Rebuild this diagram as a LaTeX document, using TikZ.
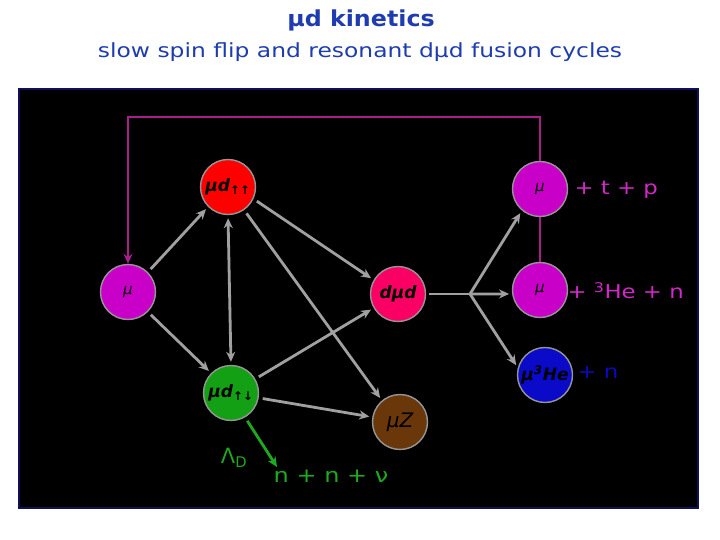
\documentclass[tikz,border=0pt]{standalone}
\usepackage{fontspec}
\setmainfont{DejaVu Sans}
\newfontfamily\widefont[FakeStretch=1.2]{DejaVu Sans}
\newfontfamily\widebold[FakeStretch=1.08]{DejaVu Sans Bold}
\usetikzlibrary{arrows.meta}
\definecolor{titleblue}{RGB}{30,60,175}
\definecolor{navy}{RGB}{15,15,90}
\definecolor{edgegray}{RGB}{160,160,160}
\definecolor{ringgray}{RGB}{150,150,150}
\definecolor{loopmag}{RGB}{170,30,140}
\definecolor{magnode}{RGB}{200,0,200}
\definecolor{pinknode}{RGB}{250,0,100}
\definecolor{rednode}{RGB}{255,0,0}
\definecolor{greennode}{RGB}{20,160,20}
\definecolor{brownnode}{RGB}{105,55,10}
\definecolor{bluenode}{RGB}{10,10,200}
\definecolor{labmag}{RGB}{210,40,200}
\definecolor{labgreen}{RGB}{30,170,30}
\definecolor{labblue}{RGB}{10,10,190}
\begin{document}
\begin{tikzpicture}[x=1pt,y=-1pt,
  ball/.style={circle,draw=ringgray,line width=1.4pt,minimum size=55pt,inner sep=0pt,
    font=\bfseries\itshape\fontsize{17}{17}\selectfont,text=black},
  tip/.style={-{Stealth[length=10pt,width=9pt]}},
  link/.style={draw=edgegray,line width=2.8pt,tip,shorten <=4pt,shorten >=3pt},
  plain/.style={draw=edgegray,line width=2.8pt},
  sidelab/.style={font=\widefont\fontsize{19}{19}\selectfont,anchor=west}]
\useasboundingbox (0,0) rectangle (720,540);
% titles
\node[text=titleblue,font=\widebold\fontsize{22}{22}\selectfont] (title) at (361,20) {μd kinetics};
\node[text=titleblue,font=\widefont\fontsize{19.5}{19.5}\selectfont] (subtitle) at (360,52) {slow spin flip and resonant dμd fusion cycles};
% panel
\node[draw=navy,fill=black,line width=1.5pt,minimum width=679pt,minimum height=419pt,inner sep=0pt] (panel) at (358.5,298.5) {};
% nodes
\node[ball,fill=rednode] (udpp) at (228,187) {μd\textsubscript{↑↑}};
\node[ball,fill=magnode,font=\itshape\fontsize{15}{15}\selectfont] (mul) at (128,292) {μ};
\node[ball,fill=magnode,font=\itshape\fontsize{15}{15}\selectfont] (mut) at (540,189) {μ};
\node[ball,fill=magnode,font=\itshape\fontsize{15}{15}\selectfont] (mum) at (540,290) {μ};
\node[ball,fill=pinknode] (dmd) at (398,294) {dμd};
\node[ball,fill=greennode] (udpm) at (231,393) {μd\textsubscript{↑↓}};
\node[ball,fill=brownnode,font=\itshape\fontsize{20}{20}\selectfont] (muz) at (400,422) {μZ};
\node[ball,fill=bluenode] (muhe) at (545,375) {μ\textsuperscript{3}He};
% side labels
\node[sidelab,text=labmag] (tp) at (571,190) {+ t + p};
\node[sidelab,text=labmag] (hen) at (564,291) {+ \textsuperscript{3}He + n};
\node[sidelab,text=labblue] (nb) at (574,373) {+ n};
\node[text=labgreen,font=\widefont\fontsize{20}{20}\selectfont] (nnv) at (331,476) {n + n + ν};
\node[text=labgreen,font=\fontsize{21}{21}\selectfont] (lam) at (234,458) {Λ\textsubscript{D}};
% loop
\coordinate (rt) at (540,117);
\coordinate (lt) at (mul.north |- rt);
\draw[draw=loopmag,line width=2.8pt,tip,line join=miter]
  (mut.north) -- (rt) -- (lt) -- (mul.north);
\draw[draw=loopmag,line width=2.8pt] (mut.south) -- (mum.north);
% gray arrows
\draw[link] (mul.45) -- (udpp.225);
\draw[link] (mul.-45) -- (udpm.135);
\draw[draw=edgegray,line width=2.8pt,{Stealth[length=10pt,width=9pt]}-{Stealth[length=10pt,width=9pt]},shorten <=3pt,shorten >=3pt] (udpp.south) -- (udpm.north);
\draw[link] (udpp.-25) -- (dmd.150);
\draw[link] (udpp.-55) -- (muz.130);
\draw[link] (udpm.30) -- (dmd.210);
\draw[link] (udpm.-10) -- (muz.170);
\coordinate (br) at (470,294);
\draw[plain,shorten <=3pt] (dmd.east) -- (br);
\draw[link,shorten <=0pt] (br) -- (mut.230);
\draw[link,shorten <=0pt] (br) -- (mum.188);
\draw[link,shorten <=0pt] (br) -- (muhe.165);
% green decay
\draw[draw=labgreen,line width=2.8pt,tip,shorten <=4pt] (udpm.-60) -- (277,467);
\end{tikzpicture}
\end{document}
